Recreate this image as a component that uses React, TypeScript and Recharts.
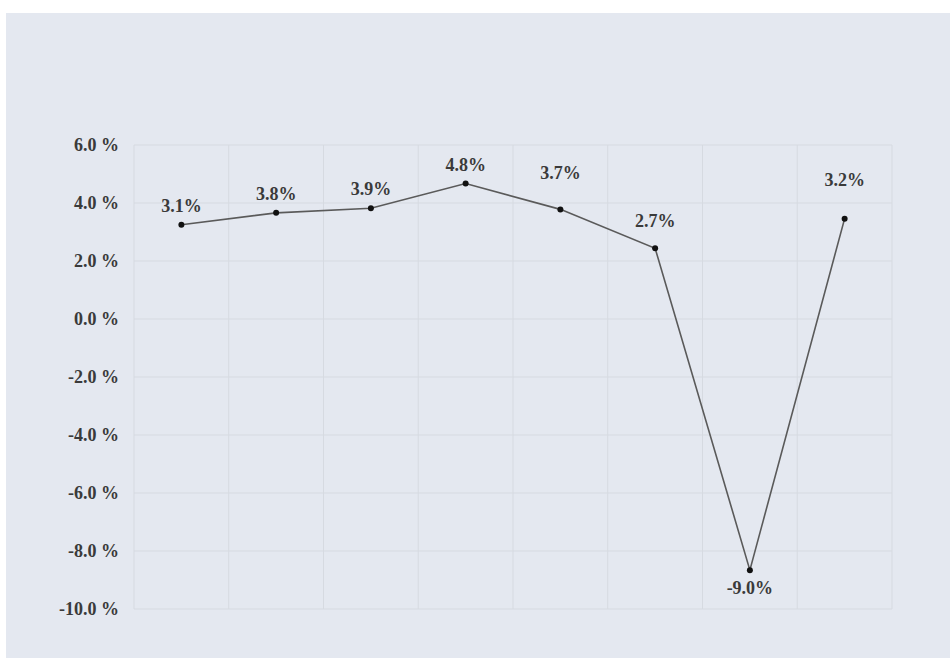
import { LineChart, Line, XAxis, YAxis, CartesianGrid, LabelList } from "recharts";

// positions as drawn in the picture (the printed labels differ slightly)
const points = [0, 1, 2, 3, 4, 5, 6, 7];
const values = [3.25, 3.66, 3.82, 4.67, 3.78, 2.44, -8.66, 3.46];
const labels = ["3.1%", "3.8%", "3.9%", "4.8%", "3.7%", "2.7%", "-9.0%", "3.2%"];
const yTicks = [-10, -8, -6, -4, -2, 0, 2, 4, 6];
const xGrid = [0.5, 1.5, 2.5, 3.5, 4.5, 5.5, 6.5];

// label distance from its dot (negative = below)
const labelLift = [19, 19, 20, 19, 37, 28, -18, 39];

const data = points.map((p, i) => ({ idx: p, value: values[i], label: labels[i] }));

const FONT = "Liberation Serif, Times New Roman, DejaVu Serif, serif";
const TEXT = "#3a3a3a";

export default function App() {
  return (
    <div style={{ position: "absolute", left: 0, top: 0, width: 950, height: 658, background: "#fff" }}>
      <div style={{ position: "absolute", left: 6, top: 13, width: 944, height: 645, background: "#e4e8f0" }} />
      <div style={{ position: "absolute", left: 0, top: 0, fontFamily: FONT }}>
        <LineChart
          width={950}
          height={658}
          data={data}
          margin={{ top: 145, right: 58, bottom: 49, left: 0 }}
          style={{ fontFamily: FONT }}
        >
          <CartesianGrid stroke="#d6dae1" strokeWidth={1} />
          <XAxis
            type="number"
            dataKey="idx"
            domain={[-0.5, 7.5]}
            ticks={xGrid}
            hide
          />
          <YAxis
            type="number"
            domain={[-10, 6]}
            ticks={yTicks}
            width={134}
            axisLine={false}
            tickLine={false}
            tickSize={0}
            tickMargin={15}
            tickFormatter={(v: number) => `${v.toFixed(1)} %`}
            tick={{ fontSize: 18, fontWeight: 700, fill: TEXT, style: { fontFamily: FONT } }}
          />
          <Line
            dataKey="value"
            stroke="#5a5a5a"
            strokeWidth={1.6}
            dot={{ r: 3, fill: "#111", stroke: "#111", strokeWidth: 0 }}
            isAnimationActive={false}
          >
            <LabelList
              dataKey="label"
              content={(p: any) => (
                <text
                  x={p.x}
                  y={p.y - labelLift[p.index]}
                  dy="0.35em"
                  textAnchor="middle"
                  fontSize={18}
                  fontWeight={700}
                  fill={TEXT}
                  style={{ fontFamily: FONT }}
                >
                  {p.value}
                </text>
              )}
            />
          </Line>
        </LineChart>
      </div>
    </div>
  );
}
